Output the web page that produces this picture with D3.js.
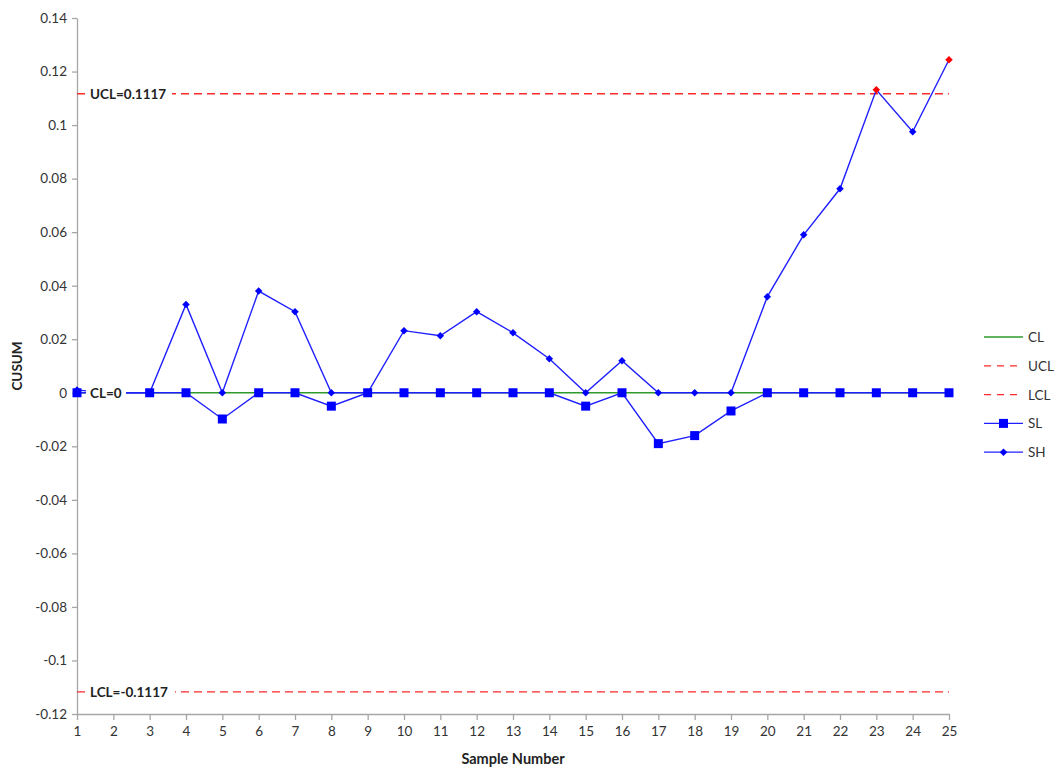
<!DOCTYPE html>
<html><head><meta charset="utf-8">
<script src="https://cdn.jsdelivr.net/npm/d3@7"></script>
<style>body{margin:0;background:#fff;} svg{display:block;font-family:Lato,"Open Sans",sans-serif;}</style>
</head><body>
<script>
const samples = d3.range(1, 26);
const SH = [0.001,0,0,0.033,0,0.038,0.0303,0,0,0.0232,0.0213,0.0303,0.0224,0.0127,0,0.012,0,0,0,0.0359,0.059,0.0762,0.1132,0.0975,0.1244];
const SL = [0,0,0,0,-0.0098,0,0,-0.005,0,0,0,0,0,0,-0.005,0,-0.019,-0.016,-0.0068,0,0,0,0,0,0];
const CL = 0, UCL = 0.1117, LCL = -0.1117;
const yTicks = [-0.12,-0.1,-0.08,-0.06,-0.04,-0.02,0,0.02,0.04,0.06,0.08,0.1,0.12,0.14];
const legendItems = ["CL","UCL","LCL","SL","SH"];

const W = 1055, H = 768;
const svg = d3.select("body").append("svg").attr("width", W).attr("height", H);
const x = d3.scaleLinear().domain([1,25]).range([77,949]);
const y = d3.scaleLinear().domain([-0.12,0.14]).range([714,18]);
const axisColor = "#a6a6a6", textColor = "#333";
const blue = "#2020ff";

// axes
const yAx = svg.append("g").attr("transform","translate(77,0)")
  .call(d3.axisLeft(y).tickValues(yTicks).tickSize(5).tickSizeOuter(0).tickFormat(d => String(+d.toFixed(2))));
const xAx = svg.append("g").attr("transform","translate(0,714)")
  .call(d3.axisBottom(x).tickValues(samples).tickSize(6).tickSizeOuter(0).tickFormat(d => d));
[yAx,xAx].forEach(g => {
  g.selectAll("path,line").attr("stroke", axisColor).attr("stroke-width",1.3);
  g.selectAll("text").attr("fill", textColor).attr("font-size", 13.5).attr("font-family","Lato,sans-serif");
});
yAx.selectAll("text").attr("x",-10);
xAx.selectAll("text").attr("y",12);

svg.append("text").attr("x",513).attr("y",764).attr("text-anchor","middle")
  .attr("font-size",14.5).attr("font-weight","bold").attr("fill","#222").text("Sample Number");
svg.append("text").attr("transform","translate(22,366) rotate(-90)").attr("text-anchor","middle")
  .attr("font-size",13.5).attr("font-weight","bold").attr("fill","#222").text("CUSUM");

// control lines
svg.append("line").attr("x1",x(1)).attr("x2",x(25)).attr("y1",y(CL)).attr("y2",y(CL))
  .attr("stroke","#2e9a2e").attr("stroke-width",1.3);
[UCL,LCL].forEach(v => svg.append("line").attr("x1",x(1)).attr("x2",x(25)).attr("y1",y(v)).attr("y2",y(v))
  .attr("stroke","#ff2a2a").attr("stroke-width",1.3).attr("stroke-dasharray","8,5"));

// series lines
const line = d3.line().x((d,i) => x(samples[i])).y(d => y(d));
svg.append("path").datum(SL).attr("d", line).attr("fill","none").attr("stroke",blue).attr("stroke-width",1.4);
svg.append("path").datum(SH).attr("d", line).attr("fill","none").attr("stroke",blue).attr("stroke-width",1.4);

// markers
svg.append("g").selectAll("rect").data(SL).join("rect")
  .attr("x",(d,i)=>x(samples[i])-4.5).attr("y",d=>y(d)-4.5).attr("width",9).attr("height",9).attr("fill","#0000ff");
svg.append("g").selectAll("path").data(SH).join("path")
  .attr("d", d3.symbol().type(d3.symbolSquare).size(28))
  .attr("transform",(d,i)=>`translate(${x(samples[i])},${y(d)}) rotate(45)`)
  .attr("fill", d => d > UCL ? "#ff0000" : "#0000ff");

// control line labels
function label(txt, yv, w){
  svg.append("rect").attr("x",86).attr("y",y(yv)-8).attr("width",w).attr("height",16).attr("fill","#fff");
  svg.append("text").attr("x",90).attr("y",y(yv)+5).attr("font-size",13.5).attr("font-weight","bold")
    .attr("fill","#222").text(txt);
}
label("UCL=0.1117", UCL, 86);
label("CL=0", CL, 40);
label("LCL=-0.1117", LCL, 89);

// legend
const lg = svg.append("g");
legendItems.forEach((name,i) => {
  const ly = 337 + i*28.8;
  const g = lg.append("g");
  const ln = g.append("line").attr("x1",984).attr("x2",1023).attr("y1",ly).attr("y2",ly).attr("stroke-width",1.3);
  if (name==="CL") ln.attr("stroke","#2e9a2e");
  else if (name==="UCL"||name==="LCL") ln.attr("stroke","#ff2a2a").attr("stroke-dasharray","7,6");
  else ln.attr("stroke",blue);
  if (name==="SL") g.append("rect").attr("x",999).attr("y",ly-4.5).attr("width",9).attr("height",9).attr("fill","#0000ff");
  if (name==="SH") g.append("path").attr("d",d3.symbol().type(d3.symbolSquare).size(28)).attr("transform",`translate(1003.5,${ly}) rotate(45)`).attr("fill","#0000ff");
  g.append("text").attr("x",1028).attr("y",ly+5).attr("font-size",13.5).attr("fill",textColor).text(name);
});
</script>
</body></html>
